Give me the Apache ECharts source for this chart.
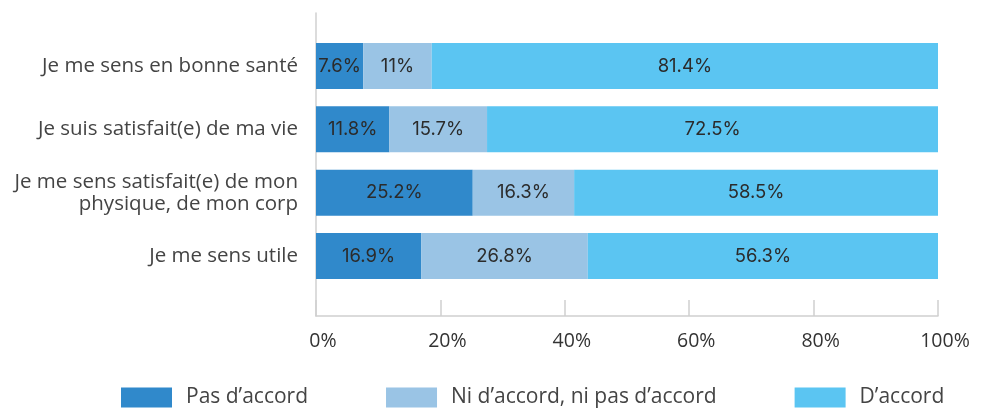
<!DOCTYPE html>
<html>
<head>
<meta charset="utf-8">
<script src="https://cdn.jsdelivr.net/npm/echarts@6/dist/echarts.min.js"></script>
<style>
  html, body { margin: 0; padding: 0; background: #ffffff; }
  #chart { width: 990px; height: 410px; }
</style>
</head>
<body>
<div id="chart"></div>
<script>
// Statements (top to bottom)
const categories = [
  'Je me sens en bonne santé',
  'Je suis satisfait(e) de ma vie',
  'Je me sens satisfait(e) de mon\nphysique, de mon corp',
  'Je me sens utile'
];
const seriesNames = ['Pas d\u2019accord', 'Ni d\u2019accord, ni pas d\u2019accord', 'D\u2019accord'];
const pasDaccord = [7.6, 11.8, 25.2, 16.9];
const niDaccord = [11, 15.7, 16.3, 26.8];
const daccord = [81.4, 72.5, 58.5, 56.3];
const tickValues = [0, 20, 40, 60, 80, 100];

const colors = ['#3089cb', '#9ac4e5', '#5bc5f2'];
const textFont = '"Open Sans", Lato, sans-serif';
const labelFont = 'Inter, "Liberation Sans", sans-serif';

const chart = echarts.init(document.getElementById('chart'), null, { renderer: 'canvas' });

function barSeries(name, values, idx) {
  return {
    name: name,
    type: 'bar',
    stack: 'total',
    xAxisIndex: 0,
    yAxisIndex: 0,
    barWidth: 46,
    data: values,
    itemStyle: { color: colors[idx] },
    label: {
      show: true,
      position: 'inside',
      formatter: p => p.value + '%',
      color: '#2b2b2b',
      fontSize: 18.5,
      fontFamily: labelFont
    },
    emphasis: { disabled: true }
  };
}

chart.setOption({
  animation: false,
  backgroundColor: '#ffffff',
  textStyle: { fontFamily: textFont },
  legend: {
    left: 121,
    top: 387,
    padding: 0,
    itemWidth: 51,
    itemHeight: 20,
    itemGap: 78,
    icon: 'rect',
    textStyle: { color: '#444444', fontSize: 21, fontFamily: textFont, padding: [0, 0, 0, 9] },
    data: seriesNames
  },
  grid: [
    { left: 316, right: 52, top: 34.33, height: 253.33 },
    { left: 316, right: 52, top: 13, bottom: 94 }
  ],
  xAxis: [
    { gridIndex: 0, type: 'value', min: 0, max: 100, show: false },
    {
      gridIndex: 1,
      type: 'value',
      min: 0,
      max: 100,
      interval: 20,
      axisLine: { show: true, onZero: false, lineStyle: { color: '#d0d0d0', width: 1.5 } },
      axisTick: { show: true, inside: true, length: 16, lineStyle: { color: '#d0d0d0', width: 1.5 } },
      axisLabel: {
        formatter: v => tickValues.includes(v) ? v + '%' : '',
        color: '#333333',
        fontSize: 19.5,
        fontFamily: textFont,
        margin: 15,
        padding: [0, 0, 0, 14]
      },
      splitLine: { show: false }
    }
  ],
  yAxis: [
    {
      gridIndex: 0,
      type: 'category',
      inverse: true,
      data: categories,
      axisLine: { show: false },
      axisTick: { show: false },
      axisLabel: {
        color: '#444444',
        fontSize: 20.5,
        fontFamily: textFont,
        margin: 18,
        align: 'right',
        lineHeight: 22
      }
    },
    {
      gridIndex: 1,
      type: 'value',
      min: 0,
      max: 1,
      axisLine: { show: true, onZero: false, lineStyle: { color: '#d0d0d0', width: 1.5 } },
      axisTick: { show: false },
      axisLabel: { show: false },
      splitLine: { show: false }
    }
  ],
  series: [
    barSeries(seriesNames[0], pasDaccord, 0),
    barSeries(seriesNames[1], niDaccord, 1),
    barSeries(seriesNames[2], daccord, 2)
  ]
});
</script>
</body>
</html>
